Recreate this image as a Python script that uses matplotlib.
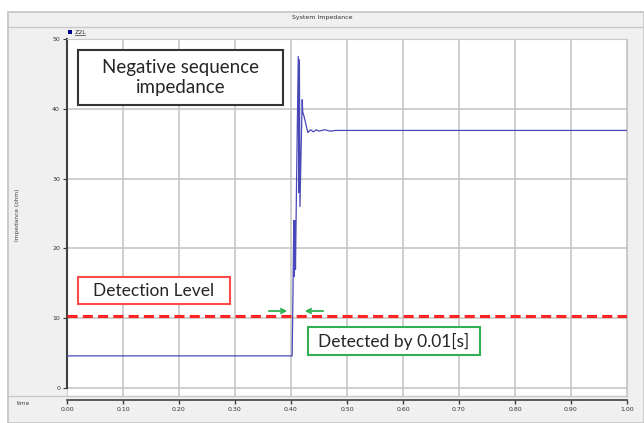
"""
Negative sequence impedance (Z2L) seen by the relay, with the detection level.
"""

import matplotlib.pyplot as plt
from matplotlib.patches import Rectangle, FancyArrowPatch
from matplotlib.lines import Line2D

W, H = 644, 423

# Z2L trace
time = [0.000, 0.100, 0.200, 0.300, 0.402, 0.403, 0.405, 0.406, 0.407, 0.408,
        0.410, 0.413, 0.414, 0.415, 0.416, 0.418, 0.420, 0.421, 0.423, 0.426,
        0.430, 0.435, 0.440, 0.445, 0.450, 0.460, 0.470, 0.480, 0.500, 0.550,
        0.600, 0.700, 0.800, 0.900, 1.000]
z2l = [4.6, 4.6, 4.6, 4.6, 4.6, 10.0, 24.0, 16.0, 24.0, 17.0,
       30.0, 47.5, 28.0, 47.0, 26.0, 34.0, 41.3, 39.5, 39.0, 38.0,
       36.6, 37.0, 36.7, 37.0, 36.8, 37.0, 36.8, 36.9, 36.9, 36.9,
       36.9, 36.9, 36.9, 36.9, 36.9]

detection_level = 10.3
x_ticks = [0.0, 0.1, 0.2, 0.3, 0.4, 0.5, 0.6, 0.7, 0.8, 0.9, 1.0]
x_labels = ["0.00", "0.10", "0.20", "0.30", "0.40", "0.50", "0.60", "0.70", "0.80", "0.90", "1.00"]
y_ticks = [0, 10, 20, 30, 40, 50]


def fx(x):
    return x / W


def fy(y):
    return 1 - y / H


fig = plt.figure(figsize=(W / 100, H / 100), dpi=100, facecolor="white")

# panel frame
fig.add_artist(Rectangle((fx(8), 0), 1 - fx(8), fy(12), transform=fig.transFigure,
                         facecolor="#f0f0f0", edgecolor="#c4c4c4", lw=1.2, zorder=0))
fig.add_artist(Line2D([fx(8), 1], [fy(27), fy(27)], transform=fig.transFigure, color="#c8c8c8", lw=1))
fig.add_artist(Line2D([fx(8), fx(627)], [fy(396), fy(396)], transform=fig.transFigure, color="#c8c8c8", lw=1))
fig.text(fx(322), fy(18), "System Impedance", fontsize=4.5, ha="center", va="center", color="#333333")
fig.text(fx(18), fy(215), "Impedance (ohm)", fontsize=4.2, rotation=90, ha="center", va="center", color="#444444")
fig.text(fx(24), fy(403), "time", fontsize=4.2, ha="center", va="center", color="#444444")
fig.add_artist(Rectangle((fx(68), fy(34)), 4 / W, 4 / H, transform=fig.transFigure,
                         facecolor="#000090", edgecolor="none"))
fig.text(fx(75), fy(32), "Z2L", fontsize=4.5, ha="left", va="center", color="#333333")
fig.add_artist(Line2D([fx(75), fx(85)], [fy(35), fy(35)], transform=fig.transFigure, color="#333333", lw=0.5))

# main plot
ax = fig.add_axes([fx(67), fy(396), (627 - 67) / W, (396 - 39) / H])
ax.set_facecolor("white")
ax.set_xlim(0, 1)
ax.set_ylim(-1.15, 50)
ax.set_xticks(x_ticks)
ax.set_yticks(y_ticks)
ax.set_yticklabels([str(v) for v in y_ticks], fontsize=4.5, color="#333333")
ax.tick_params(axis="x", length=0, labelbottom=False)
ax.tick_params(axis="y", length=3, width=0.8, pad=2, color="#333333")
ax.grid(True, color="#c2c2c2", lw=1.1)
ax.set_axisbelow(True)
for side in ["top", "right", "bottom"]:
    ax.spines[side].set_color("#c8c8c8")
ax.spines["left"].set_color("#404040")
ax.spines["left"].set_linewidth(1.5)
ax.spines["left"].set_bounds(0, 50)

ax.plot(time, z2l, color="#4848b8", lw=0.9, zorder=3)
ax.axhline(detection_level, color="#ff2424", lw=2.2, dashes=(3.3, 1.7), zorder=4)

# annotation boxes
boxes = [
    (78, 50, 283, 105, "#333333", "Negative sequence\nimpedance", 13.5),
    (78, 277, 230, 304, "#ff4a4a", "Detection Level", 12.5),
    (308, 327, 480, 355, "#30b050", "Detected by 0.01[s]", 12.5),
]
for x0, y0, x1, y1, ec, label, size in boxes:
    fig.add_artist(Rectangle((fx(x0), fy(y1)), (x1 - x0) / W, (y1 - y0) / H, transform=fig.transFigure,
                             facecolor="white", edgecolor=ec, lw=1.5, zorder=5))
    fig.text(fx((x0 + x1) / 2), fy((y0 + y1) / 2), label, fontsize=size, family="Lato",
             ha="center", va="center", color="#262626", linespacing=1.2, zorder=6)

arrow_style = dict(arrowstyle="->", color="#30b050", lw=1.3, mutation_scale=8)
fig.add_artist(FancyArrowPatch((fx(266), fy(311)), (fx(290), fy(311)),
                               transform=fig.transFigure, **arrow_style))
fig.add_artist(FancyArrowPatch((fx(326), fy(311)), (fx(302), fy(311)),
                               transform=fig.transFigure, **arrow_style))

# separate time axis underneath
tax = fig.add_axes([fx(67), fy(400), (627 - 67) / W, 0.001])
tax.patch.set_visible(False)
tax.set_xlim(0, 1)
tax.set_yticks([])
for side in ["top", "right", "left"]:
    tax.spines[side].set_visible(False)
tax.spines["bottom"].set_color("#404040")
tax.spines["bottom"].set_linewidth(1.2)
tax.set_xticks(x_ticks)
tax.set_xticklabels(x_labels, fontsize=4.5, color="#333333")
tax.tick_params(axis="x", length=3, width=1, pad=2, color="#404040")

fig.savefig("out.png", dpi=100, facecolor=fig.get_facecolor())
